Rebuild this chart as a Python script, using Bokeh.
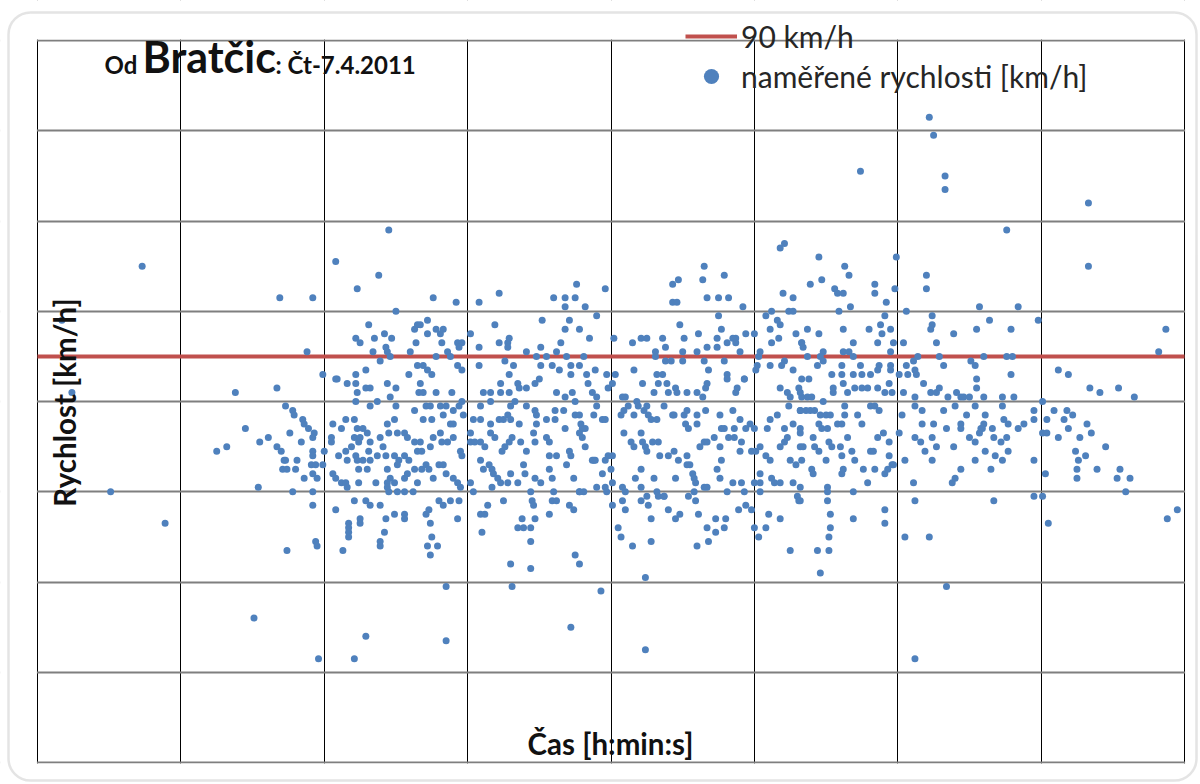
import math
from bokeh.plotting import figure
from bokeh.models import (Range1d, FixedTicker, Label, Legend, LegendItem,
                          BoxAnnotation, ColumnDataSource)
from bokeh.embed import file_html
from bokeh.resources import INLINE

# ---- axes (x = time of day in hours, one gridline per hour; y = speed km/h)
cas_start, cas_end = 6.0, 14.0
rychlost_min, rychlost_max = 0, 160
limit_kmh = 90
x_ticks = [6, 7, 8, 9, 10, 11, 12, 13, 14]
y_ticks = [0, 20, 40, 60, 80, 100, 120, 140, 160]

cas_a = [6.73, 7.69, 7.92, 7.88, 8.08, 8.45, 8.38, 8.23, 8.50, 8.31,
         8.22, 8.25, 8.35, 8.42, 8.47, 8.34, 8.43, 8.44, 8.39, 8.46,
         8.60, 8.63, 8.65, 8.64, 7.99, 8.09, 8.22, 8.29, 8.59, 8.65,
         6.17, 6.24, 6.51, 6.89]
rych_a = [110, 103, 103, 91, 111, 118, 108, 105, 100, 97,
          94, 93, 94, 95, 94, 91, 92, 91, 89, 90,
          91, 96, 97, 93, 86, 85, 86, 87, 86, 88,
          98, 82, 60, 53]

cas_b = [11.18, 11.21, 10.65, 10.64, 10.79, 10.43, 10.47, 10.43, 10.46, 10.67,
         10.75, 10.82, 10.92, 11.20, 11.27, 11.24, 11.27, 11.08, 11.12, 11.16,
         11.18, 11.11, 11.29, 11.17, 11.12, 11.04, 11.03, 11.21, 11.19, 11.11,
         11.27, 11.33, 11.01, 11.02, 10.93, 11.00, 10.94, 10.90, 10.87, 10.85,
         10.87, 10.81, 10.77, 10.75, 10.74, 10.74, 10.67, 10.61, 10.60, 10.65,
         10.68, 10.79, 10.81, 10.51, 10.48, 10.50, 10.50, 10.38, 10.36, 10.31,
         10.31, 10.38, 10.42, 10.32, 10.36, 10.21, 10.25, 10.15, 10.16, 10.02,
         9.96, 9.76, 9.68, 9.75, 9.60, 9.68, 9.82, 9.90, 9.71, 9.68,
         9.78, 9.85, 9.65, 9.62, 9.52, 9.51, 9.48, 9.55, 9.41, 9.69,
         9.81, 9.59, 9.64, 9.51, 9.72, 9.78, 9.89, 9.72, 9.83, 9.97,
         10.03, 9.50, 9.32, 9.29, 9.26, 9.22, 9.19, 9.22, 9.28, 9.29,
         9.28, 9.08, 9.08, 9.08, 9.02, 8.93, 8.96, 8.94, 8.93, 8.96,
         8.92, 8.76, 8.72, 8.67, 8.72, 8.78, 8.81, 8.83, 8.82, 8.86,
         8.88, 8.78, 8.69, 8.72, 8.75]
rych_b = [114, 115, 110, 107, 108, 106, 107, 102, 102, 103,
          103, 103, 101, 104, 103, 100, 100, 99, 100, 98,
          97, 96, 95, 94, 93, 91, 90, 89, 88, 88,
          87, 93, 87, 88, 85, 95, 95, 91, 94, 94,
          93, 93, 96, 99, 94, 92, 92, 95, 91, 89,
          87, 89, 86, 94, 97, 91, 89, 92, 94, 91,
          90, 89, 89, 86, 86, 94, 94, 93, 87, 94,
          105, 106, 103, 103, 103, 101, 101, 99, 98, 96,
          96, 94, 93, 91, 98, 92, 90, 90, 91, 90,
          90, 88, 87, 88, 88, 88, 87, 86, 86, 86,
          86, 85, 88, 86, 89, 104, 97, 93, 93, 94,
          92, 102, 92, 88, 95, 93, 93, 92, 88, 87,
          102, 103, 98, 97, 95, 96, 95, 96, 93, 91,
          90, 90, 88, 87, 86]

cas_c = [12.22, 12.25, 11.74, 12.33, 12.33, 13.33, 12.76, 13.33, 11.45, 11.99,
         11.63, 11.66, 12.20, 12.20, 11.39, 11.47, 11.56, 11.58, 11.62, 11.84,
         11.84, 11.98, 11.92, 11.67, 11.59, 12.06, 11.91, 12.24, 12.57, 12.84,
         12.64, 12.98, 11.88, 12.24, 12.23, 11.37, 11.62, 11.80, 11.89, 11.95,
         11.45, 12.39, 12.55, 12.79, 13.87, 11.33, 11.34, 11.69, 11.86, 11.97,
         12.04, 12.27, 11.48, 11.46, 11.62, 11.66, 11.69, 11.95, 13.82, 11.37,
         11.44, 11.48, 11.61, 11.74, 11.87, 11.86, 11.95, 11.95, 12.06, 12.11,
         12.14, 12.12, 12.29, 12.32, 12.51, 12.54, 12.60, 12.76, 12.80, 12.55,
         12.79, 13.12, 13.19, 11.54, 11.61, 11.69, 11.75, 11.81, 12.01, 12.07,
         12.13, 11.38, 11.33]
rych_c = [143, 139, 131, 130, 127, 124, 118, 110, 112, 112,
          110, 108, 108, 105, 106, 107, 105, 104, 104, 106,
          104, 105, 102, 101, 100, 100, 99, 99, 101, 101,
          98, 98, 97, 97, 96, 96, 96, 96, 95, 96,
          95, 95, 96, 96, 96, 93, 92, 93, 93, 93,
          93, 93, 91, 90, 91, 91, 90, 91, 91, 90,
          88, 89, 88, 88, 88, 87, 88, 87, 88, 89,
          90, 87, 90, 88, 89, 88, 90, 90, 90, 85,
          86, 87, 86, 86, 86, 86, 86, 86, 86, 86,
          86, 85, 85]

cas_d = [7.38, 7.67, 7.45, 7.25, 7.32, 7.55, 7.61, 7.54, 7.51, 7.73,
         7.78, 7.79, 7.85, 7.86, 7.89, 7.93, 7.92, 7.76, 7.84, 7.67,
         7.70, 7.72, 7.73, 7.71, 7.74, 7.81, 7.80, 7.86, 7.92, 7.92,
         7.91, 7.94, 7.92, 7.95, 7.99, 7.78, 7.92, 7.92, 7.74, 7.94,
         7.95, 7.96, 8.08, 8.13, 8.17, 8.17, 8.17, 8.17, 8.25, 8.25,
         8.21, 8.29, 8.32, 8.39, 8.43, 8.42, 8.39, 8.39, 8.49, 8.56,
         8.56, 8.29, 8.21]
rych_d = [82, 83, 74, 69, 70, 71, 72, 61, 32, 79,
          78, 77, 76, 75, 74, 73, 72, 73, 71, 70,
          69, 67, 67, 65, 65, 67, 65, 63, 69, 68,
          66, 66, 64, 63, 66, 60, 60, 57, 47, 49,
          48, 23, 56, 47, 53, 52, 51, 50, 54, 53,
          58, 58, 57, 57, 54, 51, 49, 48, 55, 55,
          54, 28, 23]

cas_e = [8.06, 8.12, 8.15, 8.21, 8.27, 8.23, 8.30, 8.21, 8.25, 8.24,
         8.32, 8.39, 8.44, 8.49, 8.45, 8.51, 8.56, 8.58, 8.63, 8.65,
         8.00, 8.05, 8.05, 8.10, 8.15, 8.19, 8.16, 8.22, 8.23, 8.27,
         8.31, 8.32, 8.37, 8.41, 8.43, 8.44, 8.49, 8.52, 8.56, 8.59,
         8.63, 8.06, 8.08, 8.12, 8.15, 8.16, 8.24, 8.30, 8.24, 8.36,
         8.44, 8.46, 8.49, 8.56, 8.58, 8.45, 8.51, 8.56, 8.62, 8.65,
         8.44, 8.51,
         8.08, 8.16, 8.22, 8.29, 8.32, 8.44, 8.50, 8.23, 8.22, 8.32,
         8.37, 8.46, 8.50, 8.63, 8.66]
rych_e = [75, 74, 76, 76, 74, 74, 73, 72, 72, 71,
          71, 72, 75, 76, 73, 73, 73, 72, 71, 69,
          69, 71, 72, 68, 69, 70, 67, 68, 67, 67,
          69, 67, 68, 70, 68, 65, 68, 67, 68, 67,
          65, 64, 63, 62, 62, 61, 62, 65, 65, 62,
          62, 63, 62, 63, 64, 60, 60, 60, 60, 62,
          61, 66,
          85, 84, 84, 83, 83, 84, 83, 82, 80, 79,
          80, 81, 79, 78, 82]

cas_f = [8.67, 8.69, 8.78, 8.89, 9.11, 9.16, 9.23, 9.23, 9.29, 9.35,
         9.36, 9.41, 9.47, 9.62, 9.68, 9.73, 9.75, 9.84, 9.87, 9.90,
         9.98, 10.01, 10.08, 10.10, 10.22, 10.30, 10.33, 10.39, 10.40, 10.45,
         10.46, 10.53, 10.60, 10.64, 10.66, 10.67, 10.81, 10.88, 10.87, 10.93,
         11.18, 11.23, 11.25, 11.31, 11.33,
         8.71, 8.74, 8.81, 8.85, 8.90, 8.94, 8.96, 8.97, 8.69, 8.75,
         8.83, 8.88, 8.90, 9.04, 9.09, 9.09, 9.16, 9.16, 9.22, 9.25,
         9.28, 9.30, 9.30, 9.33, 9.36, 9.41, 9.47, 9.48, 9.48, 9.55,
         9.61, 9.61, 9.67, 9.68, 9.75, 9.78, 9.79, 9.80, 9.82, 9.88,
         9.90, 9.94, 9.96, 10.07, 10.09, 10.12, 10.16, 10.18, 10.19, 10.23,
         10.25, 10.26, 10.28, 10.32, 10.37, 10.43, 10.44, 10.51, 10.52, 10.53,
         10.54, 10.60, 10.60, 10.66, 10.76, 10.77, 10.79, 10.85, 10.86, 10.90,
         10.94, 10.97, 11.00, 11.09, 11.11, 11.16, 11.21, 11.24, 11.27, 11.32,
         11.32]
rych_f = [84, 82, 82, 82, 82, 82, 84, 82, 82, 84,
          83, 83, 84, 82, 81, 82, 80, 84, 82, 81,
          83, 84, 81, 81, 84, 82, 84, 84, 82, 83,
          82, 82, 82, 81, 83, 84, 85, 83, 82, 85,
          83, 82, 81, 83, 81,
          79, 79, 79, 79, 78, 79, 80, 77, 76, 76,
          77, 75, 75, 76, 76, 79, 80, 75, 76, 76,
          77, 76, 79, 80, 75, 79, 78, 77, 75, 76,
          76, 78, 78, 74, 77, 77, 75, 74, 74, 77,
          79, 76, 76, 77, 78, 79, 77, 80, 79, 78,
          79, 77, 76, 76, 79, 77, 77, 77, 75, 78,
          74, 77, 75, 78, 77, 74, 74, 78, 74, 76,
          74, 75, 74, 74, 76, 77, 74, 79, 75, 78,
          73]

cas_g = [8.67, 8.68, 8.74, 8.76, 8.81, 8.82, 8.86, 8.90, 8.95, 8.96,
         9.02, 9.02, 9.05, 9.09, 9.12, 9.16, 9.19, 9.24, 9.26, 9.29,
         9.31, 9.37, 9.41, 9.46, 9.47, 9.55, 9.57, 9.57, 9.62, 9.71,
         9.72, 9.78, 9.80, 9.82, 9.87, 9.89, 9.96, 9.98, 10.01, 10.09,
         10.14, 10.16, 10.21, 10.22, 10.24, 10.25, 10.29, 10.33, 10.34, 10.40,
         10.44, 10.47, 10.53, 10.55, 10.62, 10.65, 10.67, 10.72, 10.76, 10.77,
         10.82, 10.86, 10.90, 10.91, 10.98, 11.01, 11.04, 11.08, 11.11, 11.18,
         11.21, 11.23, 11.25, 11.29, 11.32, 11.33]
rych_g = [71, 69, 70, 72, 73, 71, 71, 72, 69, 68,
          73, 71, 71, 71, 70, 73, 72, 69, 70, 71,
          72, 71, 69, 73, 71, 72, 71, 68, 68, 69,
          68, 73, 72, 70, 67, 67, 67, 68, 68, 73,
          71, 70, 73, 71, 70, 69, 71, 71, 68, 68,
          69, 67, 68, 66, 70, 71, 71, 72, 70, 67,
          72, 72, 69, 71, 69, 69, 70, 68, 67, 70,
          71, 72, 67, 66, 70, 67]

cas_h = [8.68, 8.71, 8.73, 8.76, 8.80, 8.83, 8.85, 8.90, 8.93, 8.95,
         9.02, 9.04, 9.09, 9.11, 9.15, 9.17, 9.18, 9.21, 9.17, 9.23,
         9.28, 9.30, 9.35, 9.39, 9.40, 9.44, 9.47, 9.51, 9.57, 9.59,
         9.60, 9.69, 9.74, 9.78, 9.81, 9.88, 9.90, 9.94, 9.96, 9.97,
         10.00, 10.01, 10.08, 10.10, 10.17, 10.21, 10.21, 10.25, 10.30, 10.32,
         10.37, 10.45, 10.53, 10.57, 10.58, 10.59, 10.58, 10.65, 10.67, 10.74,
         10.76, 10.81, 10.85, 10.91, 10.93, 11.00, 11.04, 11.04, 11.04, 11.12,
         11.14, 11.18, 11.27, 11.32]
rych_h = [65, 66, 65, 63, 66, 66, 64, 63, 62, 61,
          62, 60, 67, 65, 66, 65, 64, 63, 61, 62,
          62, 64, 62, 66, 64, 60, 63, 62, 65, 63,
          60, 66, 63, 60, 60, 67, 61, 64, 61, 60,
          65, 62, 61, 60, 63, 65, 61, 59, 63, 60,
          59, 63, 66, 64, 63, 62, 60, 61, 61, 65,
          63, 60, 62, 62, 60, 62, 64, 62, 60, 63,
          62, 62, 62, 61]

cas_i = [8.71, 8.73, 8.74, 8.75, 8.72, 8.74, 8.79, 8.80, 8.83, 8.88,
         8.93, 8.94, 9.09, 9.10, 9.12, 9.14, 9.25, 9.30, 9.35, 9.38,
         9.39, 9.44, 9.44, 9.45, 9.46, 9.47, 9.44, 9.57, 9.59, 9.62,
         9.71, 9.74, 9.75, 9.78, 9.78, 10.01, 10.05, 10.07, 10.08, 10.10,
         10.15, 10.21, 10.24, 10.26, 10.28, 10.28, 10.33, 10.37, 10.40, 10.45,
         10.48, 10.54, 10.59, 10.61, 10.60, 10.67, 10.68, 10.73, 10.73, 10.79,
         10.80, 10.89, 10.94, 10.98, 11.00, 11.03, 11.08, 11.10, 11.18, 11.25,
         11.30, 11.31, 8.85, 9.31, 9.93, 9.72, 8.85, 10.24]
rych_i = [55, 56, 53, 50, 48, 46, 48, 58, 57, 58,
          54, 58, 55, 51, 55, 57, 58, 44, 52, 54,
          52, 49, 52, 58, 57, 54, 43, 55, 58, 58,
          57, 56, 46, 44, 60, 57, 52, 50, 58, 56,
          48, 58, 41, 57, 54, 49, 59, 59, 56, 54,
          55, 59, 58, 55, 48, 52, 49, 54, 51, 52,
          54, 56, 57, 56, 52, 50, 52, 55, 54, 47,
          59, 58, 39, 39, 38, 30, 27, 25]

cas_j = [11.32, 11.37, 11.40, 11.48, 11.55, 11.55, 11.62, 11.65, 11.70, 11.75,
         11.79, 11.86, 11.91, 11.94, 11.96, 12.04, 12.12, 12.18, 12.23, 12.27,
         12.29, 12.35, 12.41, 12.44, 12.46, 12.50, 12.55, 12.60, 12.73, 12.81,
         13.01, 13.34, 13.41, 13.54, 13.65,
         11.32, 11.36, 11.39, 11.42, 11.46, 11.50, 11.53, 11.45, 11.47, 11.51,
         11.58, 11.61, 11.63, 11.63, 11.72, 11.75, 11.81, 11.84, 11.87, 12.01,
         12.03, 12.12, 12.17, 12.17, 12.25, 12.32, 12.34, 12.40, 12.44, 12.44,
         12.48, 12.54, 12.58, 12.60, 12.61, 12.66, 12.73, 12.74, 12.77, 12.84,
         12.88, 12.95, 12.95, 13.01, 13.04, 13.04, 13.09, 13.16, 13.18, 13.22,
         13.19, 13.32, 13.35]
rych_j = [82, 81, 81, 80, 83, 82, 84, 82, 83, 83,
          83, 83, 82, 84, 82, 82, 81, 84, 82, 82,
          83, 81, 82, 81, 81, 81, 83, 81, 81, 81,
          80, 83, 82, 83, 81,
          78, 78, 78, 78, 77, 77, 77, 75, 74, 74,
          75, 75, 79, 77, 77, 75, 79, 79, 78, 73,
          77, 79, 78, 75, 75, 78, 74, 79, 75, 74,
          77, 79, 74, 75, 77, 74, 79, 76, 75, 74,
          75, 78, 76, 73, 73, 76, 78, 76, 78, 77,
          74, 75, 73]

cas_k = [11.32, 11.34, 11.41, 11.42, 11.45, 11.50, 11.52, 11.54, 11.60, 11.61,
         11.65, 11.68, 11.70, 11.76, 11.81, 11.83, 11.84, 11.86, 11.90, 11.94,
         11.94, 11.96, 12.05, 12.12, 12.16, 12.19, 12.24, 12.24, 12.27, 12.39,
         12.44, 12.50, 12.54, 12.54, 12.57, 12.59, 12.61, 12.65, 12.67, 12.68,
         12.72, 12.73, 12.76, 12.77, 12.95, 13.12, 13.24, 13.26, 13.31, 13.27,
         13.39, 13.45,
         11.40, 11.41, 11.51, 11.51, 11.61, 11.62, 11.69, 11.79, 11.91, 11.93,
         11.97, 12.11, 12.38, 12.40, 12.95, 13.01, 13.03, 13.25, 13.25, 13.53,
         13.55, 13.62, 13.59, 11.32, 11.51, 12.12, 12.67,
         11.53, 11.53, 11.52, 11.44, 11.52, 11.46, 11.69, 11.91, 11.91, 12.05,
         12.22, 12.34, 12.12, 13.05, 13.88, 13.95]
rych_k = [74, 70, 72, 70, 69, 67, 71, 70, 70, 68,
          72, 69, 67, 65, 69, 69, 65, 72, 73, 71,
          68, 66, 67, 72, 71, 69, 72, 67, 70, 70,
          65, 72, 71, 67, 73, 74, 69, 65, 72, 68,
          71, 67, 72, 69, 67, 72, 69, 67, 68, 72,
          65, 70,
          65, 64, 61, 60, 64, 65, 60, 62, 64, 65,
          66, 62, 62, 63, 59, 59, 64, 65, 63, 63,
          65, 63, 60, 58, 58, 58, 58,
          55, 52, 50, 47, 47, 42, 54, 56, 53, 50,
          50, 39, 23, 53, 54, 56]

blocks = [(cas_a, rych_a), (cas_b, rych_b), (cas_c, rych_c), (cas_d, rych_d),
          (cas_e, rych_e), (cas_f, rych_f), (cas_g, rych_g), (cas_h, rych_h),
          (cas_i, rych_i), (cas_j, rych_j), (cas_k, rych_k)]
cas, rychlost = [], []
for bx, by in blocks:
    n = min(len(bx), len(by))
    cas.extend(bx[:n])
    rychlost.extend(by[:n])

src = ColumnDataSource(data=dict(cas=cas, rychlost=rychlost))

# ---- layout (pixels): whole canvas is the frame; plot area inside it
W, H = 1198, 782
PL, PR, PT, PB = 37, 1184, 40, 762          # plot-area edges
sx = (PR - PL) / (cas_end - cas_start)      # px per hour
sy = (PB - PT) / (rychlost_max - rychlost_min)  # px per km/h
x_lo = cas_start - PL / sx
x_hi = cas_end + (W - PR) / sx
y_lo = rychlost_min - (H - PB) / sy
y_hi = rychlost_max + PT / sy

def xd(px):
    return cas_start + (px - PL) / sx

def yd(py):
    return rychlost_min + (PB - py) / sy

FONT = "Lato"
INK = "#111111"

p = figure(width=W, height=H, output_backend="svg", toolbar_location=None,
           tools="", x_range=Range1d(x_lo, x_hi), y_range=Range1d(y_lo, y_hi),
           x_axis_location=None, y_axis_location=None,
           min_border=0, min_border_left=0, min_border_right=0,
           min_border_top=0, min_border_bottom=0)
p.outline_line_color = None
p.background_fill_color = "white"
p.border_fill_color = "white"

p.xgrid.ticker = FixedTicker(ticks=x_ticks)
p.ygrid.ticker = FixedTicker(ticks=y_ticks)
p.xgrid.grid_line_color = "#000000"
p.xgrid.grid_line_width = 1
p.ygrid.grid_line_color = "#7f7f7f"
p.ygrid.grid_line_width = 2

# white masks so the grid only shows inside the plot area
ex_x, ex_y = 20 / sx, 20 / sy
mask = dict(fill_color="white", fill_alpha=1, line_color=None, level="underlay")
p.add_layout(BoxAnnotation(left=x_lo - ex_x, right=cas_start - 0.6 / sx,
                           bottom=y_lo - ex_y, top=y_hi + ex_y, **mask))
p.add_layout(BoxAnnotation(left=cas_end + 0.6 / sx, right=x_hi + ex_x,
                           bottom=y_lo - ex_y, top=y_hi + ex_y, **mask))
p.add_layout(BoxAnnotation(left=x_lo - ex_x, right=x_hi + ex_x,
                           bottom=rychlost_max + 1.1 / sy, top=y_hi + ex_y, **mask))
p.add_layout(BoxAnnotation(left=x_lo - ex_x, right=x_hi + ex_x,
                           bottom=y_lo - ex_y, top=rychlost_min - 1.1 / sy, **mask))
# thin strip along the canvas' left edge (covers any residual grid ends)
p.add_layout(BoxAnnotation(left=x_lo - ex_x, right=xd(5),
                           bottom=y_lo - ex_y, top=y_hi + ex_y,
                           fill_color="white", fill_alpha=1, line_color=None,
                           level="glyph"))

r_limit = p.line(x=[cas_start, cas_end], y=[limit_kmh, limit_kmh],
                 line_color="#c0504d", line_width=4)
r_pts = p.scatter("cas", "rychlost", source=src, size=7,
                  fill_color="#4f81bd", line_color=None)

legend = Legend(items=[LegendItem(label="90 km/h", renderers=[r_limit]),
                       LegendItem(label="naměřené rychlosti [km/h]", renderers=[r_pts])],
                location=(685, H - 95), orientation="vertical",
                label_text_font=FONT, label_text_font_size="30px",
                label_text_color="#262626",
                glyph_width=52, glyph_height=38, label_height=38,
                label_standoff=4, spacing=2, padding=0, margin=0,
                border_line_color=None, background_fill_alpha=0)
p.add_layout(legend)

# title pieces (baselines tuned to sit on y = 72 px)
p.add_layout(Label(x=xd(104), y=yd(64), text="Od", text_font=FONT,
                   text_font_style="bold", text_font_size="24px",
                   text_color=INK, text_baseline="alphabetic"))
p.add_layout(Label(x=xd(142), y=yd(56), text="Bratčic", text_font=FONT,
                   text_font_style="bold", text_font_size="43px",
                   text_color=INK, text_baseline="alphabetic"))
p.add_layout(Label(x=xd(275), y=yd(64), text=": Čt-7.4.2011", text_font=FONT,
                   text_font_style="bold", text_font_size="24px",
                   text_color=INK, text_baseline="alphabetic"))

# axis titles (inside the plot area, as in the original)
p.add_layout(Label(x=xd(610), y=yd(743), text="Čas [h:min:s]", text_font=FONT,
                   text_font_style="bold", text_font_size="29.5px",
                   text_color=INK, text_align="center", text_baseline="middle"))
p.add_layout(Label(x=xd(64), y=yd(402), text="Rychlost [km/h]", text_font=FONT,
                   text_font_style="bold", text_font_size="29.5px",
                   text_color=INK, text_align="center", text_baseline="middle",
                   angle=math.pi / 2))

# rounded chart-area border
p.add_layout(BoxAnnotation(left=xd(8), right=xd(1196), top=yd(12), bottom=yd(780),
                           fill_alpha=0, line_color="#a6a6a6", line_width=2.5,
                           border_radius=22, level="annotation"))

open("out.html", "w").write(file_html(p, INLINE))
